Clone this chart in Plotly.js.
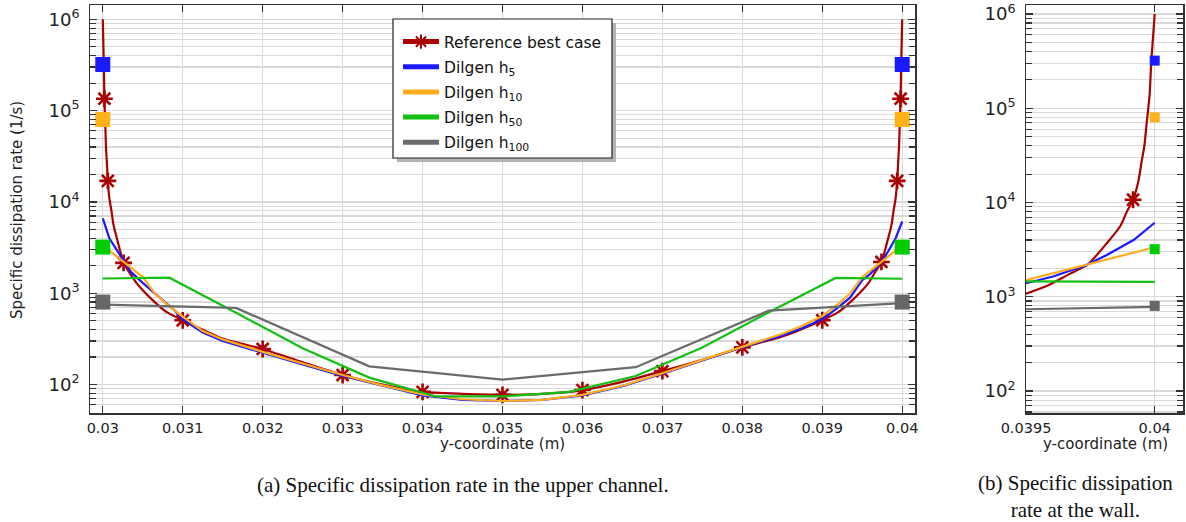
<!DOCTYPE html>
<html>
<head>
<meta charset="utf-8">
<script src="https://cdn.plot.ly/plotly-3.0.1.min.js"></script>
<style>html,body{margin:0;padding:0;background:#fff}#chart{width:1186px;height:522px}</style>
</head>
<body>
<div id="chart"></div>
<script>
// ---------------- data ----------------
// Reference best case: y-coordinate (m) and specific dissipation rate (1/s)
const refY = [0.03, 0.030013, 0.03002, 0.03003, 0.03004, 0.03005, 0.030063, 0.030084, 0.030108, 0.030134,
  0.030186, 0.03026, 0.03033, 0.03042, 0.0305, 0.03065, 0.0308, 0.031, 0.0315, 0.032, 0.0325, 0.033,
  0.0335, 0.034, 0.0345, 0.035, 0.0355, 0.036, 0.0365, 0.037, 0.0375, 0.038, 0.0385, 0.039, 0.0392,
  0.03935, 0.0395, 0.03958, 0.03967, 0.03974, 0.039814, 0.039866, 0.039892, 0.039916, 0.039937,
  0.03995, 0.03996, 0.03997, 0.03998, 0.039987, 0.04];
const refOmega = [1.0e6, 3.2e5, 1.35e5, 7.5e4, 4.0e4, 2.8e4, 1.7e4, 1.07e4, 8.0e3, 5.6e3,
  3.7e3, 2.15e3, 1.7e3, 1.3e3, 1.08e3, 800, 620, 505, 318, 245, 175, 127,
  100, 83, 79, 77, 79, 87, 107, 140, 186, 255, 335, 506, 620,
  800, 1.08e3, 1.3e3, 1.75e3, 2.2e3, 3.7e3, 5.6e3, 8.0e3, 1.07e4, 1.7e4,
  2.8e4, 4.0e4, 7.5e4, 1.35e5, 3.2e5, 1.0e6];
// positions where the asterisk markers sit, panel (a) and panel (b)
const refMarksA = [0.03002, 0.030063, 0.03026, 0.031, 0.032, 0.033, 0.034, 0.035, 0.036, 0.037, 0.038, 0.039, 0.03974, 0.039937, 0.03998];
const refMarksB = [0.039916];

// Dilgen h5
const h5Y = [0.03, 0.030082, 0.030188, 0.030354, 0.0305, 0.030647, 0.030897, 0.031, 0.03125, 0.0315, 0.032, 0.0325,
  0.033, 0.0335, 0.034, 0.0345, 0.035, 0.0355, 0.036, 0.0365, 0.037, 0.0375, 0.038, 0.0385, 0.03875, 0.039,
  0.0392, 0.03935, 0.0395, 0.039605, 0.039736, 0.039814, 0.039918, 0.04];
const h5Omega = [6.6e3, 4.0e3, 2.85e3, 1.7e3, 1.3e3, 1.0e3, 650, 515, 370, 300, 222, 166,
  124, 97, 76, 68, 66, 68, 76, 96, 131, 183, 256, 345, 415, 518,
  700, 900, 1.39e3, 1.64e3, 2.18e3, 2.78e3, 4.0e3, 6.1e3];

// Dilgen h10
const h10Y = [0.03, 0.0305, 0.03065, 0.0308, 0.031, 0.03125, 0.0315, 0.032, 0.0325, 0.033, 0.0335, 0.034, 0.0345,
  0.035, 0.0355, 0.036, 0.0365, 0.037, 0.0375, 0.038, 0.0385, 0.03875, 0.039, 0.0392, 0.03935, 0.0395, 0.04];
const h10Omega = [3.35e3, 1.5e3, 1.0e3, 760, 555, 385, 312, 228, 170, 127, 98, 78, 69,
  66, 68, 77, 97, 133, 186, 260, 360, 440, 563, 760, 1.0e3, 1.5e3, 3.35e3];

// Dilgen h50
const h50Y = [0.03, 0.030833, 0.031667, 0.0325, 0.033333, 0.034167, 0.035, 0.035833, 0.036667, 0.0375, 0.038333, 0.039167, 0.04];
const h50Omega = [1450, 1480, 610, 250, 119, 74, 74, 83, 124, 254, 620, 1470, 1440];

// Dilgen h100
const h100Y = [0.03, 0.031667, 0.033333, 0.035, 0.036667, 0.038333, 0.04];
const h100Omega = [750, 690, 158, 113, 155, 645, 780];

// wall values (square markers)
const wallY = [0.03, 0.04];
const wallH5 = [3.2e5, 3.2e5];
const wallH10 = [8.0e4, 8.0e4];
const wallH50 = [3.2e3, 3.2e3];
const wallH100 = [8.0e2, 8.0e2];

// tick labels
const xTicksA = [0.03, 0.031, 0.032, 0.033, 0.034, 0.035, 0.036, 0.037, 0.038, 0.039, 0.04];
const xTickTextA = ['0.03', '0.031', '0.032', '0.033', '0.034', '0.035', '0.036', '0.037', '0.038', '0.039', '0.04'];
const xTicksB = [0.0395, 0.04];
const xTickTextB = ['0.0395', '0.04'];

// series names
const names = ['Reference best case', 'Dilgen h<sub>5</sub>', 'Dilgen h<sub>10</sub>', 'Dilgen h<sub>50</sub>', 'Dilgen h<sub>100</sub>'];

// ---------------- styles ----------------
const FONT = 'DejaVu Sans, sans-serif';
const SERIF = 'Liberation Serif, Times New Roman, serif';
const C_REF = '#aa0000', C_H5 = '#1a1aff', C_H10 = '#ffad1f', C_H50 = '#14c014', C_H100 = '#6b6b6b';
const SQ = {h5: '#1a1aff', h10: '#ffb21a', h50: '#00cc00', h100: '#676767'};
const GRID = '#d9d9d9', AX = '#333';
const W = 1186, H = 522;
const px = v => v / W, py = v => 1 - v / H;

const sizesA = refY.map(v => refMarksA.includes(v) ? 14 : 0);
const sizesB = refY.map(v => refMarksB.includes(v) ? 14 : 0);

function curve(x, y, name, color, axis, legend, extra) {
  return Object.assign({
    type: 'scatter', mode: 'lines', x: x, y: y, name: name,
    line: {color: color, width: 2.2}, xaxis: axis[0], yaxis: axis[1],
    showlegend: legend, legendgroup: name, hoverinfo: 'skip'
  }, extra || {});
}
function squares(y, color, axis, size) {
  return {type: 'scatter', mode: 'markers', x: wallY, y: y, xaxis: axis[0], yaxis: axis[1],
    marker: {symbol: 'square', size: size, color: color, line: {width: 0}},
    showlegend: false, hoverinfo: 'skip'};
}
const A = ['x', 'y'], B = ['x2', 'y2'];
const refStyle = s => ({mode: 'lines+markers', line: {color: C_REF, width: 2.2, shape: 'spline', smoothing: 0.6},
  marker: {symbol: 'asterisk-open', size: s, color: C_REF, opacity: 1, line: {color: C_REF, width: 2.6}}});

const data = [
  curve(refY, refOmega, names[0], C_REF, A, true, refStyle(sizesA)),
  curve(h5Y, h5Omega, names[1], C_H5, A, true),
  curve(h10Y, h10Omega, names[2], C_H10, A, true),
  curve(h50Y, h50Omega, names[3], C_H50, A, true),
  curve(h100Y, h100Omega, names[4], C_H100, A, true),
  squares(wallH5, SQ.h5, A, 15), squares(wallH10, SQ.h10, A, 15),
  squares(wallH50, SQ.h50, A, 15), squares(wallH100, SQ.h100, A, 15),
  curve(refY, refOmega, names[0], C_REF, B, false, refStyle(sizesB)),
  curve(h5Y, h5Omega, names[1], C_H5, B, false),
  curve(h10Y, h10Omega, names[2], C_H10, B, false),
  curve(h50Y, h50Omega, names[3], C_H50, B, false),
  curve(h100Y, h100Omega, names[4], C_H100, B, false),
  squares(wallH5, SQ.h5, B, 10), squares(wallH10, SQ.h10, B, 10),
  squares(wallH50, SQ.h50, B, 10), squares(wallH100, SQ.h100, B, 10)
];

const tickFont = {family: FONT, size: 14.5, color: '#222'};
function xAxis(domain, range, vals, text, anchor) {
  return {domain: domain, range: range, anchor: anchor, tickmode: 'array', tickvals: vals, ticktext: text,
    ticks: 'inside', ticklen: 7, tickwidth: 1.3, tickcolor: AX, showline: true, linecolor: AX, linewidth: 1.5,
    mirror: 'ticks', showgrid: true, gridcolor: GRID, gridwidth: 1.4, zeroline: false, tickfont: tickFont,
    ticklabelstandoff: 1, fixedrange: true};
}
function yAxis(domain, range, anchor) {
  return {domain: domain, range: range, anchor: anchor, type: 'log', tickmode: 'linear', tick0: 0, dtick: 1,
    exponentformat: 'power', showexponent: 'all',
    ticks: 'inside', ticklen: 7, tickwidth: 1.3, tickcolor: AX, showline: true, linecolor: AX, linewidth: 1.5,
    mirror: 'ticks', showgrid: true, gridcolor: GRID, gridwidth: 1.4, zeroline: false, tickfont: tickFont,
    ticklabelstandoff: 6, fixedrange: true,
    minor: {dtick: 'D1', ticks: 'inside', ticklen: 6, tickwidth: 1.2, tickcolor: AX, showgrid: true, gridcolor: GRID, gridwidth: 1.2}};
}

const ydom = [py(413), py(5)];
const layout = {
  width: W, height: H, margin: {l: 0, r: 0, t: 0, b: 0},
  paper_bgcolor: '#fff', plot_bgcolor: '#fff',
  font: {family: FONT, color: '#222'},
  xaxis: xAxis([px(90), px(915)], [0.02984, 0.04016], xTicksA, xTickTextA, 'y'),
  yaxis: yAxis(ydom, [1.688, 6.157], 'x'),
  xaxis2: xAxis([px(1026), px(1183)], [0.0395, 0.04011], xTicksB, xTickTextB, 'y2'),
  yaxis2: yAxis(ydom, [1.767, 6.095], 'x2'),
  showlegend: true,
  legend: {x: px(398), y: py(25), xanchor: 'left', yanchor: 'top', bgcolor: 'rgba(0,0,0,0)',
    borderwidth: 0, font: {family: FONT, size: 15.5, color: '#111'}, tracegroupgap: 2,
    itemsizing: 'constant', itemwidth: 36},
  shapes: [
    {type: 'rect', xref: 'paper', yref: 'paper', x0: px(397), x1: px(616), y0: py(162), y1: py(23),
      fillcolor: '#b4b4b4', line: {width: 0}, layer: 'above'},
    {type: 'rect', xref: 'paper', yref: 'paper', x0: px(393), x1: px(612), y0: py(158), y1: py(19),
      fillcolor: '#fff', line: {width: 1.2, color: '#222'}, layer: 'above'}
  ],
  annotations: [
    {text: 'Specific dissipation rate (1/s)', xref: 'paper', yref: 'paper', x: px(17), y: py(210), textangle: -90,
      showarrow: false, xanchor: 'center', yanchor: 'middle', font: {family: FONT, size: 15, color: '#222'}},
    {text: 'y-coordinate (m)', xref: 'paper', yref: 'paper', x: px(502), y: py(444), showarrow: false,
      xanchor: 'center', yanchor: 'middle', font: {family: FONT, size: 15, color: '#222'}},
    {text: 'y-coordinate (m)', xref: 'paper', yref: 'paper', x: px(1105), y: py(444), showarrow: false,
      xanchor: 'center', yanchor: 'middle', font: {family: FONT, size: 15, color: '#222'}},
    {text: '(a) Specific dissipation rate in the upper channel.', xref: 'paper', yref: 'paper', x: px(463), y: py(485),
      showarrow: false, xanchor: 'center', yanchor: 'middle', font: {family: SERIF, size: 21, color: '#111'}},
    {text: '(b) Specific dissipation<br>rate at the wall.', xref: 'paper', yref: 'paper', x: px(1075), y: py(496),
      showarrow: false, xanchor: 'center', yanchor: 'middle', align: 'center', font: {family: SERIF, size: 21, color: '#111'}}
  ]
};

Plotly.newPlot('chart', data, layout, {displayModeBar: false, staticPlot: true});
</script>
</body>
</html>
